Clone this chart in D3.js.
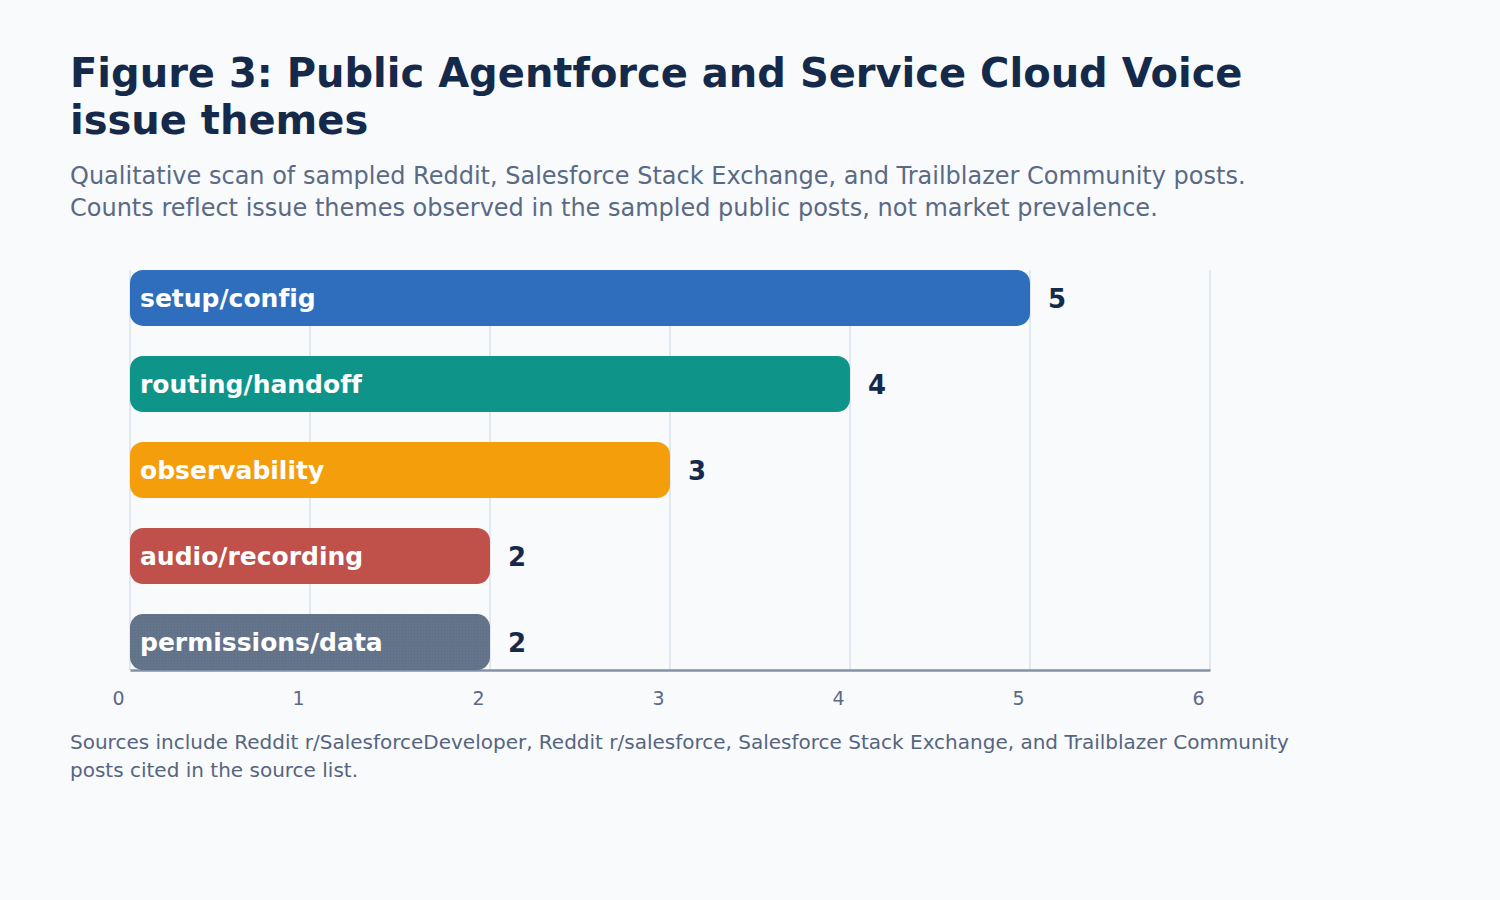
<!DOCTYPE html>
<html>
<head>
<meta charset="utf-8">
<script src="https://cdn.jsdelivr.net/npm/d3@7/dist/d3.min.js"></script>
<style>
  html, body { margin: 0; padding: 0; background: #f8fafc; }
  svg { display: block; font-family: "DejaVu Sans", sans-serif; font-variant-ligatures: none; }
  text { font-variant-ligatures: none; font-feature-settings: "liga" 0, "clig" 0; }
</style>
</head>
<body>
<svg id="chart" width="1500" height="900"></svg>
<script>
const categories = ["setup/config", "routing/handoff", "observability", "audio/recording", "permissions/data"];
const counts = [5, 4, 3, 2, 2];
const barColors = ["#2f6ebd", "#0e9488", "#f59e0b", "#c0504a", "#64748b"];
const tickValues = [0, 1, 2, 3, 4, 5, 6];
const titleLines = ["Figure 3: Public Agentforce and Service Cloud Voice", "issue themes"];
const subtitleLines = [
  "Qualitative scan of sampled Reddit, Salesforce Stack Exchange, and Trailblazer Community posts.",
  "Counts reflect issue themes observed in the sampled public posts, not market prevalence."
];
const footerLines = [
  "Sources include Reddit r/SalesforceDeveloper, Reddit r/salesforce, Salesforce Stack Exchange, and Trailblazer Community",
  "posts cited in the source list."
];

const svg = d3.select("#chart");
svg.append("rect").attr("width", 1500).attr("height", 900).attr("fill", "#f8fafc");

const defs = svg.append("defs");
const pat = defs.append("pattern").attr("id", "dots").attr("width", 3).attr("height", 3)
  .attr("patternUnits", "userSpaceOnUse");
pat.append("rect").attr("width", 3).attr("height", 3).attr("fill", "#64748b");
pat.append("rect").attr("width", 1).attr("height", 1).attr("fill", "#5b6b82");

svg.append("g").selectAll("text").data(titleLines).join("text")
  .attr("x", 70).attr("y", (d, i) => 87 + i * 47)
  .attr("font-size", 40).attr("font-weight", "bold").attr("fill", "#152a4a")
  .text(d => d);

svg.append("g").selectAll("text").data(subtitleLines).join("text")
  .attr("x", 70).attr("y", (d, i) => 184 + i * 32)
  .attr("font-size", 24).attr("fill", "#5a6a85")
  .text(d => d);

svg.append("g").selectAll("text").data(footerLines).join("text")
  .attr("x", 70).attr("y", (d, i) => 749 + i * 28)
  .attr("font-size", 20).attr("fill", "#55657f")
  .text(d => d);

const x = d3.scaleLinear().domain([0, 6]).range([130, 1210]);
const y = d3.scaleBand().domain(categories).range([270, 670]).paddingInner(0.35).paddingOuter(0);

svg.append("g").selectAll("line").data(tickValues).join("line")
  .attr("x1", d => x(d)).attr("x2", d => x(d))
  .attr("y1", 270).attr("y2", 670)
  .attr("stroke", "#e2e8f0").attr("stroke-width", 2);

const axis = d3.axisBottom(x).tickValues(tickValues).tickSize(0).tickPadding(0).tickFormat(d3.format("d"));
const ag = svg.append("g").attr("transform", "translate(0,670)").call(axis);
ag.select(".domain").attr("stroke", "#8391a7").attr("stroke-width", 2.5);
ag.selectAll(".tick text")
  .attr("font-family", "DejaVu Sans, sans-serif")
  .attr("font-size", 19).attr("fill", "#5a6a85")
  .attr("x", -12).attr("dy", 0).attr("y", 35);

const rows = categories.map((c, i) => ({ c, v: counts[i], col: barColors[i], i }));
svg.append("g").selectAll("rect").data(rows).join("rect")
  .attr("x", x(0)).attr("y", d => y(d.c))
  .attr("width", d => x(d.v) - x(0)).attr("height", y.bandwidth())
  .attr("rx", 13).attr("ry", 13)
  .attr("fill", d => d.i === 4 ? "url(#dots)" : d.col);

svg.append("g").selectAll("text").data(rows).join("text")
  .attr("x", x(0) + 10).attr("y", d => y(d.c) + y.bandwidth() / 2 + 9)
  .attr("font-size", 25).attr("font-weight", "bold").attr("fill", "#ffffff")
  .text(d => d.c);

svg.append("g").selectAll("text").data(rows).join("text")
  .attr("x", d => x(d.v) + 18).attr("y", d => y(d.c) + y.bandwidth() / 2 + 10)
  .attr("font-size", 26).attr("font-weight", "bold").attr("fill", "#152a4a")
  .text(d => d.v);
</script>
</body>
</html>
